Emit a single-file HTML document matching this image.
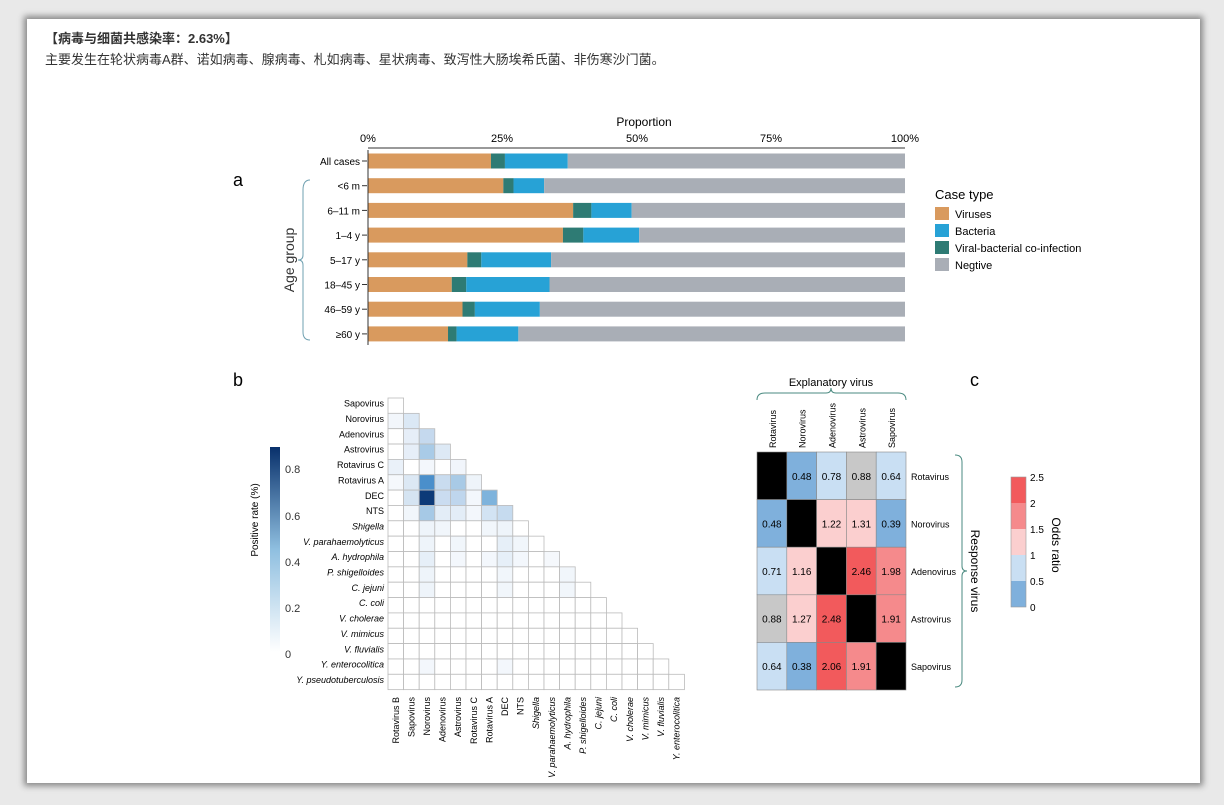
<!DOCTYPE html><html><head><meta charset="utf-8"><style>
body{margin:0;background:#e9e9e9;width:1224px;height:805px;overflow:hidden;font-family:"Liberation Sans","Noto Sans CJK SC",sans-serif}
.box{position:absolute;left:27px;top:19px;width:1173px;height:764px;background:#fff;box-shadow:0 0 6px 3px #888}
.t{position:absolute;left:45px;font-size:13px;color:#333}
svg{position:absolute;left:0;top:0}
</style></head><body>
<div class="box"></div>
<div class="t" style="top:28px;font-weight:bold">【病毒与细菌共感染率：2.63%】</div>
<div class="t" style="top:49px">主要发生在轮状病毒A群、诺如病毒、腺病毒、札如病毒、星状病毒、致泻性大肠埃希氏菌、非伤寒沙门菌。</div>
<svg width="1224" height="805" font-family="Liberation Sans, sans-serif" id="s">
<text x="644" y="126" font-size="12" text-anchor="middle">Proportion</text>
<g font-size="11" text-anchor="middle"><text x="368" y="142">0%</text><text x="502" y="142">25%</text><text x="637" y="142">50%</text><text x="771" y="142">75%</text><text x="905" y="142">100%</text></g>
<line x1="368" y1="148" x2="905" y2="148" stroke="#333"/>
<text x="233" y="186" font-size="18">a</text><text x="233" y="386" font-size="18">b</text><text x="970" y="386" font-size="18">c</text>
<path d="M310 180 Q303 180 303 190 L303 255 Q303 260 298 260 Q303 260 303 265 L303 332 Q303 340 310 340" fill="none" stroke="#6fa0b0"/>
<text transform="translate(294,260) rotate(-90)" font-size="14" text-anchor="middle" fill="#333">Age group</text>
<g id="bars"></g>
<text x="935" y="199" font-size="13">Case type</text>
<g font-size="11"><rect x="935" y="207" width="14" height="13" fill="#d99a5e"/><text x="955" y="218">Viruses</text>
<rect x="935" y="224" width="14" height="13" fill="#27a2d6"/><text x="955" y="235">Bacteria</text>
<rect x="935" y="241" width="14" height="13" fill="#2e7b74"/><text x="955" y="252">Viral-bacterial co-infection</text>
<rect x="935" y="258" width="14" height="13" fill="#a9aeb6"/><text x="955" y="269">Negtive</text></g>
<defs><linearGradient id="gb" x1="0" y1="1" x2="0" y2="0"><stop offset="0" stop-color="#fff"/><stop offset="0.5" stop-color="#8fbfe0"/><stop offset="1" stop-color="#08306b"/></linearGradient></defs>
<rect x="270" y="447" width="10" height="205" fill="url(#gb)"/>
<g font-size="11" fill="#333"><text x="285" y="473">0.8</text><text x="285" y="520">0.6</text><text x="285" y="566">0.4</text><text x="285" y="612">0.2</text><text x="285" y="658">0</text></g>
<text transform="translate(258,520) rotate(-90)" font-size="10" text-anchor="middle">Positive rate (%)</text>
<g id="hb"></g>
<g id="hc"></g>
<text x="831" y="386" font-size="11" text-anchor="middle">Explanatory virus</text>
<path d="M757 400 Q757 393 765 393 L826 393 Q831 393 831 388 Q831 393 836 393 L898 393 Q906 393 906 400" fill="none" stroke="#4a8a80"/>
<path d="M955 455 Q962 455 962 462 L962 566 Q962 571 967 571 Q962 571 962 576 L962 680 Q962 687 955 687" fill="none" stroke="#4a8a80"/>
<text transform="translate(971,571) rotate(90)" font-size="12" text-anchor="middle">Response virus</text>
<rect x="1011" y="477" width="15" height="26" fill="#f25a5c"/><rect x="1011" y="503" width="15" height="26" fill="#f58a8c"/><rect x="1011" y="529" width="15" height="26" fill="#fbcfcf"/><rect x="1011" y="555" width="15" height="26" fill="#c9dff3"/><rect x="1011" y="581" width="15" height="26" fill="#7fb0dc"/>
<rect x="1011" y="477" width="15" height="130" fill="none" stroke="#999" stroke-width="0.6"/>
<g font-size="10"><text x="1030" y="481">2.5</text><text x="1030" y="507">2</text><text x="1030" y="533">1.5</text><text x="1030" y="559">1</text><text x="1030" y="585">0.5</text><text x="1030" y="611">0</text></g>
<text transform="translate(1052,545) rotate(90)" font-size="12" text-anchor="middle">Odds ratio</text>
</svg>
<script>
var NS="http://www.w3.org/2000/svg";function el(p,t,a,txt){var e=document.createElementNS(NS,t);for(var k in a)e.setAttribute(k,a[k]);if(txt!=null)e.textContent=txt;p.appendChild(e);return e}
var bars=document.getElementById('bars');
var D=[["All cases",22.9,25.5,37.2],["<6 m",25.2,27.1,32.8],["6–11 m",38.2,41.6,49.1],["1–4 y",36.3,40.1,50.5],["5–17 y",18.5,21.1,34.1],["18–45 y",15.6,18.3,33.8],["46–59 y",17.6,19.9,32],["≥60 y",14.9,16.5,28]];
var x0=368,W=537;
D.forEach(function(d,i){var y=161+i*24.7;var s=[0,d[1],d[2],d[3],100],c=["#d99a5e","#2e7b74","#27a2d6","#a9aeb6"];
for(var j=0;j<4;j++)el(bars,'rect',{x:x0+W*s[j]/100,y:y-7.5,width:W*(s[j+1]-s[j])/100,height:15,fill:c[j]});
el(bars,'text',{x:360,y:y+4,'font-size':10,'text-anchor':'end'},d[0]);el(bars,'line',{x1:362,y1:y,x2:367,y2:y,stroke:'#333'});});
el(bars,'line',{x1:368,y1:150,x2:368,y2:345,stroke:'#333'});
var hb=document.getElementById('hb');
var rows=["Sapovirus","Norovirus","Adenovirus","Astrovirus","Rotavirus C","Rotavirus A","DEC","NTS","Shigella","V. parahaemolyticus","A. hydrophila","P. shigelloides","C. jejuni","C. coli","V. cholerae","V. mimicus","V. fluvialis","Y. enterocolitica","Y. pseudotuberculosis"];
var cols=["Rotavirus B"].concat(rows.slice(0,18));
var ital=function(n){return /^[A-Z]\. /.test(n)||n=="Shigella"};
var C={"1,0":"#f2f6fb","1,1":"#dbe8f5","2,1":"#e6eef8","2,2":"#c5d9ee","3,1":"#e6eef8","3,2":"#a9cbe7","3,3":"#dde9f5","4,0":"#eaf1f9","4,2":"#f3f7fc","4,4":"#f1f5fb","5,0":"#f5f8fc","5,1":"#dce8f4","5,2":"#4a8fcb","5,3":"#c9dcef","5,4":"#a8cae6","5,5":"#eef4fa","6,1":"#d5e4f2","6,2":"#0d3a78","6,3":"#cadcf0","6,4":"#bfd6ed","6,5":"#f3f7fc","6,6":"#7eb3dc","7,1":"#f1f6fb","7,2":"#a6c9e6","7,3":"#e3edf7","7,4":"#e3edf7","7,5":"#f3f7fc","7,6":"#d2e3f3","7,7":"#c6dbef","8,2":"#eef4fa","8,3":"#f1f6fb","8,6":"#f1f6fb","8,7":"#eef4fa","9,2":"#eef4fa","9,4":"#f1f6fb","9,7":"#e6eff8","9,8":"#f1f6fb","10,2":"#e6eff8","10,4":"#f3f7fc","10,6":"#f3f7fc","10,7":"#e6eff8","10,8":"#f3f7fc","10,10":"#f5f8fc","11,2":"#eef4fa","11,7":"#f1f6fb","11,11":"#f1f6fb","12,2":"#eef4fa","12,7":"#f1f6fb","12,11":"#f1f6fb","17,2":"#f3f7fc","17,7":"#f3f7fc"};
var cw=15.6,ch=15.35,bx=388,by=398;
for(var r=0;r<19;r++){for(var c=0;c<=r;c++)el(hb,'rect',{x:bx+c*cw,y:by+r*ch,width:cw,height:ch,fill:C[r+","+c]||"#fff",stroke:"#bbb","stroke-width":0.8});
var a={x:384,y:by+r*ch+ch/2+1,'font-size':9,'text-anchor':'end'};if(ital(rows[r]))a['font-style']='italic';el(hb,'text',a,rows[r]);}
cols.forEach(function(n,c){var x=bx+c*cw+cw/2+3;var a={transform:'translate('+x+',697) rotate(-90)','font-size':9,'text-anchor':'end'};if(ital(n))a['font-style']='italic';el(hb,'text',a,n);});
var hc=document.getElementById('hc');
var V=["Rotavirus","Norovirus","Adenovirus","Astrovirus","Sapovirus"];
var M=[[null,.48,.78,.88,.64],[.48,null,1.22,1.31,.39],[.71,1.16,null,2.46,1.98],[.88,1.27,2.48,null,1.91],[.64,.38,2.06,1.91,null]];
function col(v){if(v==null)return"#000";if(v==.88)return"#c8c8c8";if(v<.5)return"#7fb0dc";if(v<1)return"#c9dff3";if(v<1.5)return"#fbcfcf";if(v<2)return"#f58a8c";return"#f25a5c"}
var cx=757,cy=452,w=29.8,h=47.6;
for(var i=0;i<5;i++){for(var j=0;j<5;j++){var v=M[i][j];el(hc,'rect',{x:cx+j*w,y:cy+i*h,width:w,height:h,fill:col(v),stroke:"#888","stroke-width":0.6});if(v!=null)el(hc,'text',{x:cx+j*w+w/2,y:cy+i*h+h/2+4,'font-size':10,'text-anchor':'middle'},v.toFixed(2));}
el(hc,'text',{x:911,y:cy+i*h+h/2+4,'font-size':9},V[i]);
el(hc,'text',{transform:'translate('+(cx+i*w+w/2+4)+',448) rotate(-90)','font-size':9},V[i]);}
</script>
</body></html>
